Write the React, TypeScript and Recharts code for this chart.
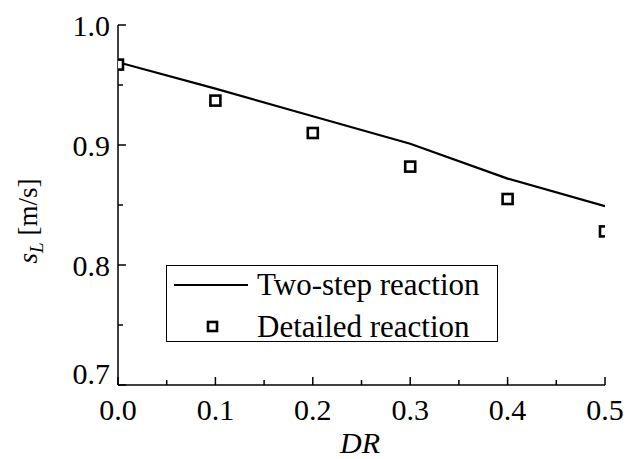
import { ComposedChart, Line, Scatter, XAxis, YAxis } from 'recharts';

const drValues = [0, 0.1, 0.2, 0.3, 0.4, 0.5];
const twoStep = [0.969, 0.947, 0.924, 0.901, 0.872, 0.849];
const detailed = [0.967, 0.937, 0.91, 0.882, 0.855, 0.828];

const xTicks = [0, 0.05, 0.1, 0.15, 0.2, 0.25, 0.3, 0.35, 0.4, 0.45, 0.5];
const yTicks = [0.7, 0.75, 0.8, 0.85, 0.9, 0.95, 1.0];

const FONT = '"Liberation Serif", "Times New Roman", serif';
const MAJOR = 8;
const MINOR = 5;

const data = drValues.map((dr, i) => ({ dr, twoStep: twoStep[i], detailed: detailed[i] }));

const isMajor = (v: number) => Math.abs(v * 10 - Math.round(v * 10)) < 1e-6;

const BottomTick = (props: any) => {
  const { x, y, payload } = props;
  const v = payload.value;
  const major = isMajor(v);
  return (
    <g>
      <line x1={x} y1={y} x2={x} y2={y - (major ? MAJOR : MINOR)} stroke="#000" strokeWidth={1.5} />
      {major && (
        <text x={x} y={y + 24} textAnchor="middle" dominantBaseline="central" fontSize={30} fontFamily={FONT} fill="#000">
          {v.toFixed(1)}
        </text>
      )}
    </g>
  );
};

const TopTick = (props: any) => {
  const { x, y, payload } = props;
  const major = isMajor(payload.value);
  return <line x1={x} y1={y} x2={x} y2={y + (major ? MAJOR : MINOR)} stroke="#000" strokeWidth={1.5} />;
};

const LeftTick = (props: any) => {
  const { x, y, payload } = props;
  const v = payload.value;
  const major = isMajor(v);
  // Origin pushes the bottom label up so it doesn't collide with 0.0
  const dy = v < 0.701 ? -12 : 0;
  return (
    <g>
      <line x1={x} y1={y} x2={x + (major ? MAJOR : MINOR)} y2={y} stroke="#000" strokeWidth={1.5} />
      {major && (
        <text x={x - 8} y={y + dy} textAnchor="end" dominantBaseline="central" fontSize={30} fontFamily={FONT} fill="#000">
          {v.toFixed(1)}
        </text>
      )}
    </g>
  );
};

const RightTick = (props: any) => {
  const { x, y, payload } = props;
  const major = isMajor(payload.value);
  return <line x1={x} y1={y} x2={x - (major ? MAJOR : MINOR)} y2={y} stroke="#000" strokeWidth={1.5} />;
};

const SquareDot = (props: any) => {
  const { cx, cy } = props;
  if (cx == null || cy == null) return null;
  return <rect x={cx - 5} y={cy - 5} width={10} height={10} fill="#fff" stroke="#000" strokeWidth={2.6} />;
};

const renderYLabel = () => (
  <text transform="translate(37, 221) rotate(-90)" textAnchor="middle" fontSize={27} fontFamily={FONT} fill="#000">
    <tspan fontStyle="italic">s</tspan>
    <tspan fontStyle="italic" fontSize={19} dy={6}>L</tspan>
    <tspan dy={-6}> [m/s]</tspan>
  </text>
);

const renderXLabel = () => (
  <text x={360} y={442} textAnchor="middle" dominantBaseline="central" fontSize={30} fontStyle="italic" fontFamily={FONT} fill="#000">
    DR
  </text>
);

function ChartLegend() {
  return (
    <div
      style={{
        position: 'absolute',
        left: 166,
        top: 265,
        width: 332,
        height: 77,
        boxSizing: 'border-box',
        border: '1px solid #000',
        background: '#fff',
        fontFamily: FONT,
        fontSize: 31,
        color: '#000',
      }}
    >
      <svg width={90} height={75} style={{ position: 'absolute', left: 0, top: 0 }}>
        <line x1={7} x2={81} y1={19} y2={19} stroke="#000" strokeWidth={2.2} />
        <rect x={41} y={56} width={9} height={9} fill="#fff" stroke="#000" strokeWidth={2.6} />
      </svg>
      <div style={{ position: 'absolute', left: 90, top: 1, lineHeight: '36px', whiteSpace: 'nowrap' }}>Two-step reaction</div>
      <div style={{ position: 'absolute', left: 90, top: 43, lineHeight: '36px', whiteSpace: 'nowrap' }}>Detailed reaction</div>
    </div>
  );
}

export default function App() {
  return (
    <div style={{ position: 'absolute', left: 0, top: 0, width: 627, height: 459, background: '#fff' }}>
      <ComposedChart width={627} height={459} data={data} margin={{ top: 25, right: 22, bottom: 4, left: 18 }}>
        <XAxis
          xAxisId="bottom"
          dataKey="dr"
          type="number"
          domain={[0, 0.5]}
          ticks={xTicks}
          interval={0}
          allowDataOverflow
          height={70}
          tickSize={0}
          tickMargin={0}
          tickLine={false}
          tick={<BottomTick />}
          axisLine={{ stroke: '#000', strokeWidth: 1.5 }}
          label={renderXLabel}
        />
        <XAxis
          xAxisId="top"
          orientation="top"
          dataKey="dr"
          type="number"
          domain={[0, 0.5]}
          ticks={xTicks}
          interval={0}
          height={0}
          tickSize={0}
          tickMargin={0}
          tickLine={false}
          tick={<TopTick />}
          axisLine={{ stroke: '#000', strokeWidth: 1.5 }}
        />
        <YAxis
          yAxisId="left"
          type="number"
          domain={[0.7, 1.0]}
          ticks={yTicks}
          interval={0}
          allowDataOverflow
          width={100}
          tickSize={0}
          tickMargin={0}
          tickLine={false}
          tick={<LeftTick />}
          axisLine={{ stroke: '#000', strokeWidth: 1.5 }}
          label={renderYLabel}
        />
        <YAxis
          yAxisId="right"
          orientation="right"
          type="number"
          domain={[0.7, 1.0]}
          ticks={yTicks}
          interval={0}
          width={0}
          tickSize={0}
          tickMargin={0}
          tickLine={false}
          tick={<RightTick />}
          axisLine={{ stroke: '#000', strokeWidth: 1.5 }}
        />
        <Line
          xAxisId="bottom"
          yAxisId="left"
          dataKey="twoStep"
          type="linear"
          stroke="#000"
          strokeWidth={2.2}
          dot={false}
          activeDot={false}
          isAnimationActive={false}
        />
        <Scatter
          xAxisId="bottom"
          yAxisId="left"
          dataKey="detailed"
          fill="#fff"
          shape={<SquareDot />}
          isAnimationActive={false}
        />
      </ComposedChart>
      <ChartLegend />
    </div>
  );
}
